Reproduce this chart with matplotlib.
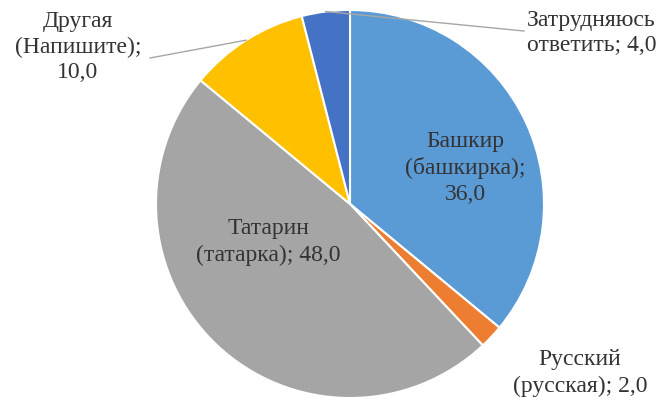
import numpy as np
import matplotlib.pyplot as plt

# data
labels = ['Башкир\n(башкирка);\n36,0', 'Русский\n(русская); 2,0', 'Татарин\n(татарка); 48,0',
          'Другая\n(Напишите);\n10,0', 'Затрудняюсь\nответить; 4,0']
values = [36.0, 2.0, 48.0, 10.0, 4.0]
colors = ['#5B9BD5', '#ED7D31', '#A5A5A5', '#FFC000', '#4472C4']

W, H = 663, 401
CX, CY, R = 350, 204, 194  # pie centre / radius in pixels


def px(x, y):
    # pixel coords (from top-left) -> data coords of the pie axes
    return (x - CX) / R, (CY - y) / R


fig = plt.figure(figsize=(W / 100, H / 100), dpi=100)
ax = fig.add_axes([(CX - R) / W, (H - CY - R) / H, 2 * R / W, 2 * R / H])

wedges, _ = ax.pie(values, colors=colors, startangle=90, counterclock=False, radius=1,
                   wedgeprops=dict(edgecolor='white', linewidth=1.5))
ax.set_xlim(-1, 1)
ax.set_ylim(-1, 1)
ax.set_aspect('equal')
ax.axis('off')

font = dict(family='Liberation Serif', fontsize=17, color='#333333', linespacing=1.3)

# label positions (pixels) and alignment
pos = [(465, 168, 'center'), (580, 373, 'center'), (268, 242, 'center'),
       (78, 47, 'center'), (527, 33, 'left')]
for w, lab, (lx, ly, ha) in zip(wedges, labels, pos):
    tx, ty = px(lx, ly)
    ax.text(tx, ty, lab, ha=ha, va='center', **font)

# leader lines for the two small top slices
for i, end in [(3, (150, 58)), (4, (524, 31))]:
    w = wedges[i]
    mid = np.deg2rad((w.theta1 + w.theta2) / 2)
    ex, ey = px(*end)
    ax.plot([np.cos(mid), ex], [np.sin(mid), ey], color='#A6A6A6', lw=1, clip_on=False)

fig.savefig('out.png', dpi=100)
